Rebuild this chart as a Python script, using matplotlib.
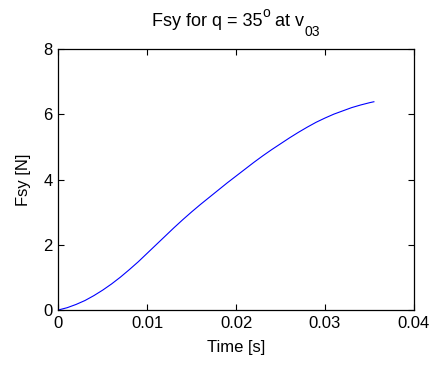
import matplotlib
matplotlib.use("Agg")
import matplotlib.pyplot as plt

# Lateral force Fsy over time for q = 35 deg at v03
time_s = [0.000, 0.001, 0.002, 0.003, 0.004, 0.005, 0.006, 0.007, 0.008,
          0.009, 0.010, 0.011, 0.012, 0.013, 0.014, 0.015, 0.016, 0.017,
          0.018, 0.019, 0.020, 0.021, 0.022, 0.023, 0.024, 0.025, 0.026,
          0.027, 0.028, 0.029, 0.030, 0.031, 0.032, 0.033, 0.034, 0.035,
          0.0355]
fsy_n = [0.00, 0.07, 0.17, 0.29, 0.44, 0.61, 0.80, 1.01, 1.24,
         1.48, 1.74, 2.00, 2.26, 2.52, 2.77, 3.01, 3.24, 3.46,
         3.68, 3.90, 4.11, 4.32, 4.53, 4.73, 4.92, 5.10, 5.28,
         5.45, 5.61, 5.76, 5.89, 6.01, 6.11, 6.21, 6.29, 6.36,
         6.39]

x_ticks = [0, 0.01, 0.02, 0.03, 0.04]
x_tick_labels = ["0", "0.01", "0.02", "0.03", "0.04"]
y_ticks = [0, 2, 4, 6, 8]

# title pieces: (text, vertical shift in px, font size)
title_parts = [("Fsy for q = 35", 0, 13), ("o", 9, 10),
               (" at v", 0, 13), ("03", -10, 10)]

plt.rcParams["font.family"] = ["Liberation Sans", "DejaVu Sans"]

fig = plt.figure(figsize=(4.38, 3.65), dpi=100)
ax = fig.add_axes([0.133, 0.1507, 0.812, 0.7143])

ax.plot(time_s, fsy_n, color="#0000ff", linewidth=0.8)

ax.set_xlim(0, 0.04)
ax.set_ylim(0, 8)
ax.set_xticks(x_ticks)
ax.set_xticklabels(x_tick_labels)
ax.set_yticks(y_ticks)

ax.tick_params(direction="in", length=4, width=0.8, top=True, right=True,
               labelsize=12, pad=4, colors="black")
for s in ax.spines.values():
    s.set_linewidth(0.9)

ax.set_xlabel("Time [s]", fontsize=12, labelpad=7)
ax.set_ylabel("Fsy [N]", fontsize=12, labelpad=9)

# Title assembled from pieces so the superscript/subscript sit like the original
renderer = fig.canvas.get_renderer()
widths = []
for txt, dy, size in title_parts:
    t = fig.text(0, 0, txt, fontsize=size)
    widths.append(t.get_window_extent(renderer).width)
    t.remove()
total = sum(widths)
ax_bb = ax.get_window_extent(renderer)
x_px = (ax_bb.x0 + ax_bb.x1) / 2 - total / 2
base_y = fig.bbox.height - 25.7
for (txt, dy, size), w in zip(title_parts, widths):
    fig.text(x_px / fig.bbox.width, (base_y + dy) / fig.bbox.height, txt,
             fontsize=size, ha="left", va="baseline")
    x_px += w

fig.savefig("out.png", dpi=100)
